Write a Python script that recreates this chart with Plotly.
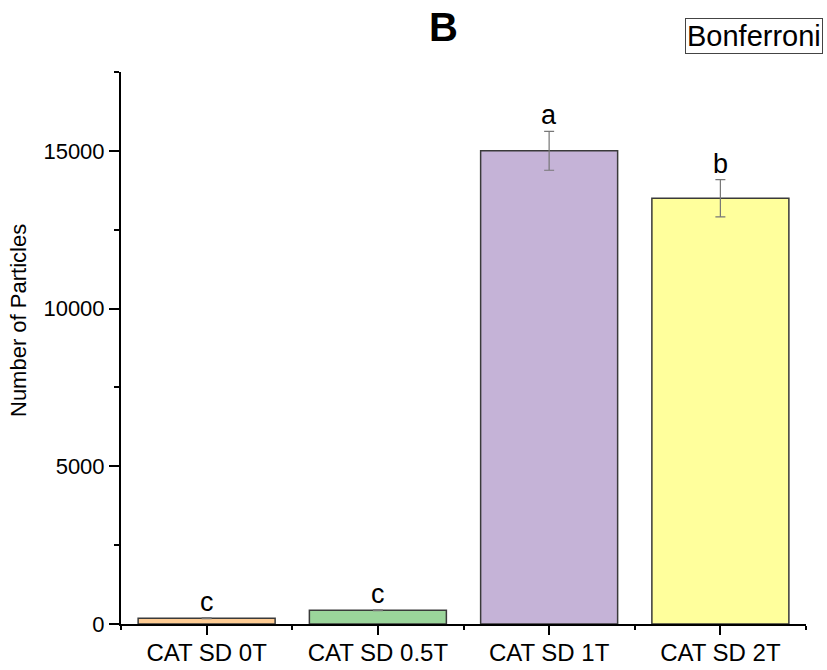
import plotly.graph_objects as go

categories = ["CAT SD 0T", "CAT SD 0.5T", "CAT SD 1T", "CAT SD 2T"]
values = [185, 435, 15000, 13500]
errors = [15, 10, 615, 590]
letters = ["c", "c", "a", "b"]
colors = ["#FFCC93", "#9BD59B", "#C5B3D7", "#FFFF9C"]
y_ticks = [0, 5000, 10000, 15000]

xpos = list(range(len(categories)))
FONT = "Liberation Sans, Arial, sans-serif"

fig = go.Figure()
fig.add_trace(go.Bar(
    x=xpos, y=values, width=0.8,
    marker=dict(color=colors, line=dict(color="#3a3a3a", width=1.5)),
    error_y=dict(type="data", array=errors, visible=True, color="#777777", thickness=1.2, width=5),
    showlegend=False,
))

for x, v, e, t in zip(xpos, values, errors, letters):
    fig.add_annotation(x=x, y=v + e, text=t, showarrow=False, yanchor="bottom", yshift=-1,
                       font=dict(size=27, color="black", family=FONT))

fig.add_annotation(x=(443 - 121) / 685, y=1.0, xref="paper", yref="paper", text="<b>B</b>", showarrow=False,
                   yanchor="middle", yshift=45, font=dict(size=40, color="black", family=FONT))
fig.add_annotation(x=1.025, y=1.0, xref="paper", yref="paper", text="Bonferroni", showarrow=False,
                   xanchor="right", yanchor="middle", yshift=36, bordercolor="#444", borderwidth=1, borderpad=1,
                   bgcolor="white", font=dict(size=29, color="black", family=FONT))
fig.add_annotation(x=(18 - 121) / 685, y=(624 - 321) / 552, xref="paper", yref="paper",
                   text="Number of Particles", textangle=-90, showarrow=False,
                   xanchor="center", yanchor="middle", font=dict(size=22, color="black", family=FONT))

fig.update_layout(
    width=827, height=670,
    margin=dict(l=121, r=21, t=72, b=46),
    plot_bgcolor="white", paper_bgcolor="white",
    font=dict(family=FONT, color="black"),
)
fig.update_xaxes(
    range=[-0.5, 3.5], tickvals=xpos, ticktext=categories, automargin=False,
    showgrid=False, zeroline=False, showline=True, linecolor="black", linewidth=2,
    ticks="outside", ticklen=9, tickwidth=2, tickcolor="black", ticklabelstandoff=-3,
    tickfont=dict(size=24, family=FONT),
    minor=dict(ticks="outside", ticklen=4, tickwidth=2, tickcolor="black", tick0=-0.5, dtick=1),
)
fig.update_yaxes(
    range=[0, 17500], tickvals=y_ticks, ticktext=[str(t) for t in y_ticks], automargin=False,
    showgrid=False, zeroline=False, showline=True, linecolor="black", linewidth=2,
    ticks="outside", ticklen=10, tickwidth=2, tickcolor="black",
    tickfont=dict(size=22, family=FONT),
    minor=dict(ticks="outside", ticklen=5, tickwidth=2, tickcolor="black", tick0=0, dtick=2500),
)

fig.write_html("out.html")
